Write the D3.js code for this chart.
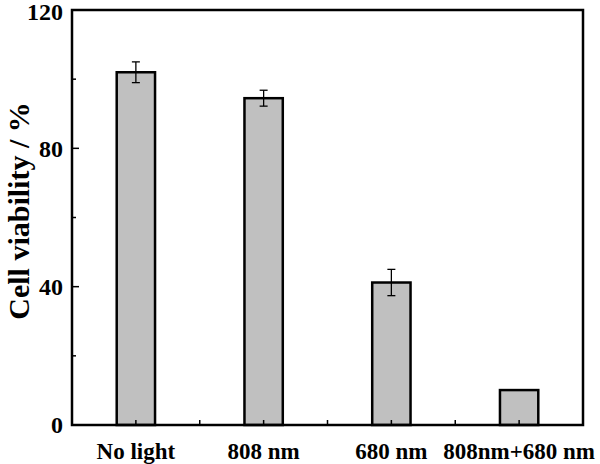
<!DOCTYPE html>
<meta charset="utf-8">
<style>
body { margin: 0; background: #fff; }
svg { display: block; }
text { font-family: "Liberation Serif", "Times New Roman", serif; font-weight: bold; fill: #000; }
</style>
<body>
<script src="https://d3js.org/d3.v7.min.js"></script>
<script>
var categories = ["No light", "808 nm", "680 nm", "808nm+680 nm"];
var viability = [102, 94.5, 41.2, 10.1];
var errors = [3, 2.3, 3.8, 0];
var yTicks = [0, 40, 80, 120];
var yMinor = [20, 60, 100];

var width = 600, height = 464;
var margin = {top: 10, right: 17, bottom: 39, left: 72};

var svg = d3.select("body").append("svg")
    .attr("width", width)
    .attr("height", height);

var x = d3.scaleBand()
    .domain(categories)
    .range([margin.left, width - margin.right])
    .paddingInner(0.7)
    .paddingOuter(0.35);

var y = d3.scaleLinear()
    .domain([0, 120])
    .range([height - margin.bottom, margin.top]);

var step = x.step();
var x0 = margin.left, x1 = width - margin.right;
var yb = y(0), yt = y(120);

// bars
svg.append("g").selectAll("rect")
  .data(categories)
  .enter().append("rect")
    .attr("x", function(d) { return x(d); })
    .attr("y", function(d, i) { return y(viability[i]); })
    .attr("width", x.bandwidth())
    .attr("height", function(d, i) { return yb - y(viability[i]); })
    .style("fill", "#c0c0c0")
    .style("stroke", "#000")
    .style("stroke-width", 2.5);

// error bars
var eb = svg.append("g").selectAll("g")
  .data(categories.filter(function(d, i) { return errors[i] > 0; }))
  .enter().append("g")
    .style("stroke", "#000")
    .style("stroke-width", 1.3);
eb.append("line")
    .attr("x1", function(d) { return x(d) + x.bandwidth() / 2; })
    .attr("x2", function(d) { return x(d) + x.bandwidth() / 2; })
    .attr("y1", function(d) { var i = categories.indexOf(d); return y(viability[i] + errors[i]); })
    .attr("y2", function(d) { var i = categories.indexOf(d); return y(viability[i] - errors[i]); });
[1, -1].forEach(function(s) {
  eb.append("line")
    .attr("x1", function(d) { return x(d) + x.bandwidth() / 2 - 4; })
    .attr("x2", function(d) { return x(d) + x.bandwidth() / 2 + 4; })
    .attr("y1", function(d) { var i = categories.indexOf(d); return y(viability[i] + s * errors[i]); })
    .attr("y2", function(d) { var i = categories.indexOf(d); return y(viability[i] + s * errors[i]); });
});

// frame
svg.append("rect")
    .attr("x", x0).attr("y", yt)
    .attr("width", x1 - x0).attr("height", yb - yt)
    .style("fill", "none")
    .style("stroke", "#000")
    .style("stroke-width", 2.5);

// y ticks (inward)
var yAxis = svg.append("g");
yAxis.selectAll("line.major")
  .data(yTicks)
  .enter().append("line")
    .attr("x1", x0).attr("x2", x0 + 7)
    .attr("y1", function(d) { return y(d); })
    .attr("y2", function(d) { return y(d); })
    .style("stroke", "#000").style("stroke-width", 1.5);
yAxis.selectAll("line.minor")
  .data(yMinor)
  .enter().append("line")
    .attr("x1", x0).attr("x2", x0 + 4)
    .attr("y1", function(d) { return y(d); })
    .attr("y2", function(d) { return y(d); })
    .style("stroke", "#000").style("stroke-width", 1.5);
yAxis.selectAll("text")
  .data(yTicks)
  .enter().append("text")
    .attr("x", x0 - 9)
    .attr("y", function(d) { return Math.max(y(d), 12); })
    .attr("dy", "0.35em")
    .attr("text-anchor", "end")
    .style("font-size", "24px")
    .text(function(d) { return d; });

// x ticks (inward): at bar centres and between bars
var xTickPos = [];
categories.forEach(function(d, i) {
  xTickPos.push(x(d) + x.bandwidth() / 2);
  if (i < categories.length - 1) xTickPos.push(x(d) + x.bandwidth() / 2 + step / 2);
});
svg.append("g").selectAll("line")
  .data(xTickPos)
  .enter().append("line")
    .attr("x1", function(d) { return d; })
    .attr("x2", function(d) { return d; })
    .attr("y1", yb).attr("y2", yb - 5)
    .style("stroke", "#000").style("stroke-width", 1.5);

svg.append("g").selectAll("text")
  .data(categories)
  .enter().append("text")
    .attr("x", function(d) { return x(d) + x.bandwidth() / 2; })
    .attr("y", 459)
    .attr("text-anchor", "middle")
    .style("font-size", "23px")
    .text(function(d) { return d; });

// y label
svg.append("text")
    .attr("transform", "translate(29,211) rotate(-90)")
    .attr("text-anchor", "middle")
    .style("font-size", "30px")
    .text("Cell viability / %");
</script>
</body>
